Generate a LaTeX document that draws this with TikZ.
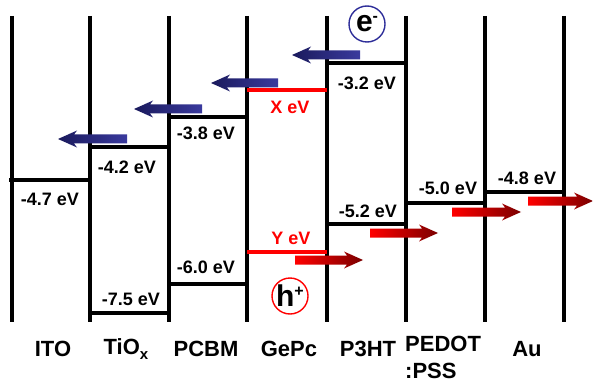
\documentclass[tikz,border=0pt]{standalone}
\usepackage{fontspec}
\setmainfont{Liberation Sans}
\definecolor{navyd}{HTML}{1A1A5C}
\definecolor{bluel}{HTML}{3A3A9E}
\definecolor{redl}{HTML}{FF0000}
\definecolor{redd}{HTML}{7A0000}
\definecolor{circblue}{HTML}{2E2E99}
\newcommand{\bluearrow}[3]{% tip x, tail x, y
  \shade[left color=navyd, right color=bluel] (#1,#3) -- ({#1+19},{#3-8.5}) -- ({#1+16},{#3-4.5}) -- (#2,{#3-4.5}) -- (#2,{#3+4.5}) -- ({#1+16},{#3+4.5}) -- ({#1+19},{#3+8.5}) -- cycle;}
\newcommand{\redarrow}[3]{% tail x, tip x, y
  \shade[left color=redl, right color=redd] (#2,#3) -- ({#2-19},{#3-8.5}) -- ({#2-16},{#3-4.5}) -- (#1,{#3-4.5}) -- (#1,{#3+4.5}) -- ({#2-16},{#3+4.5}) -- ({#2-19},{#3+8.5}) -- cycle;}
\begin{document}
\begin{tikzpicture}[x=1pt,y=-1pt,
  wall/.style={line width=3.6pt},
  level/.style={line width=3.6pt},
  redlevel/.style={line width=3.6pt, red},
  val/.style={font=\fontsize{18}{20}\selectfont\bfseries, inner sep=0pt},
  redval/.style={val, text=red},
  layer/.style={font=\fontsize{22}{26}\selectfont\bfseries, inner sep=0pt, anchor=base},
  carrier/.style={circle, line width=1.4pt, minimum size=36pt, inner sep=0pt, font=\fontsize{30}{32}\selectfont\bfseries}]
\useasboundingbox (0,0) rectangle (593,382);
% walls
\foreach \x in {12,90,169,247,327,406,485,564}
  \draw[wall] (\x,16) -- (\x,322);
% levels
\draw[level] (9,180) -- (90,180);
\draw[level] (90,147) -- (169,147);
\draw[level] (90,313) -- (169,313);
\draw[level] (169,117) -- (247,117);
\draw[level] (169,284) -- (247,284);
\draw[redlevel] (247,90) -- (327,90);
\draw[redlevel] (247,252) -- (327,252);
\draw[level] (327,63) -- (406,63);
\draw[level] (327,224) -- (406,224);
\draw[level] (406,203) -- (485,203);
\draw[level] (485,192) -- (564,192);
% values
\node[val] (v1) at (50,199) {-4.7 eV};
\node[val] (v2) at (127,167) {-4.2 eV};
\node[val] (v3) at (131,299) {-7.5 eV};
\node[val] (v4) at (206,133) {-3.8 eV};
\node[val] (v5) at (206,267) {-6.0 eV};
\node[redval] (v6) at (290,107) {X eV};
\node[redval] (v7) at (291,238) {Y eV};
\node[val] (v8) at (367,83) {-3.2 eV};
\node[val] (v9) at (368,211) {-5.2 eV};
\node[val] (v10) at (448,188) {-5.0 eV};
\node[val] (v11) at (527,178) {-4.8 eV};
% layer names
\node[layer] (ito) at (53,356) {ITO};
\node[layer] (tio) at (126,354) {TiO\raisebox{-5pt}{\fontsize{15}{15}\selectfont x}};
\node[layer] (pcbm) at (206,356) {PCBM};
\node[layer] (gepc) at (289,356) {GePc};
\node[layer] (p3ht) at (368,356) {P3HT};
\node[layer, align=left, anchor=north west] (pedot) at (405,336) {PEDOT\\[1pt]:PSS};
\node[layer] (au) at (527,356) {Au};
% carriers
\node[carrier, draw=circblue] (el) at (367,24) {e\raisebox{10pt}{\fontsize{16}{16}\selectfont -}};
\node[carrier, draw=red] (ho) at (290,296) {h\raisebox{10pt}{\fontsize{16}{16}\selectfont +}};
% arrows
\bluearrow{58}{127}{139}
\bluearrow{134}{202}{109}
\bluearrow{211}{278}{83}
\bluearrow{292}{360}{55}
\redarrow{295}{363}{260}
\redarrow{370}{438}{233}
\redarrow{452}{521}{212}
\redarrow{528}{593}{201}
\end{tikzpicture}
\end{document}
